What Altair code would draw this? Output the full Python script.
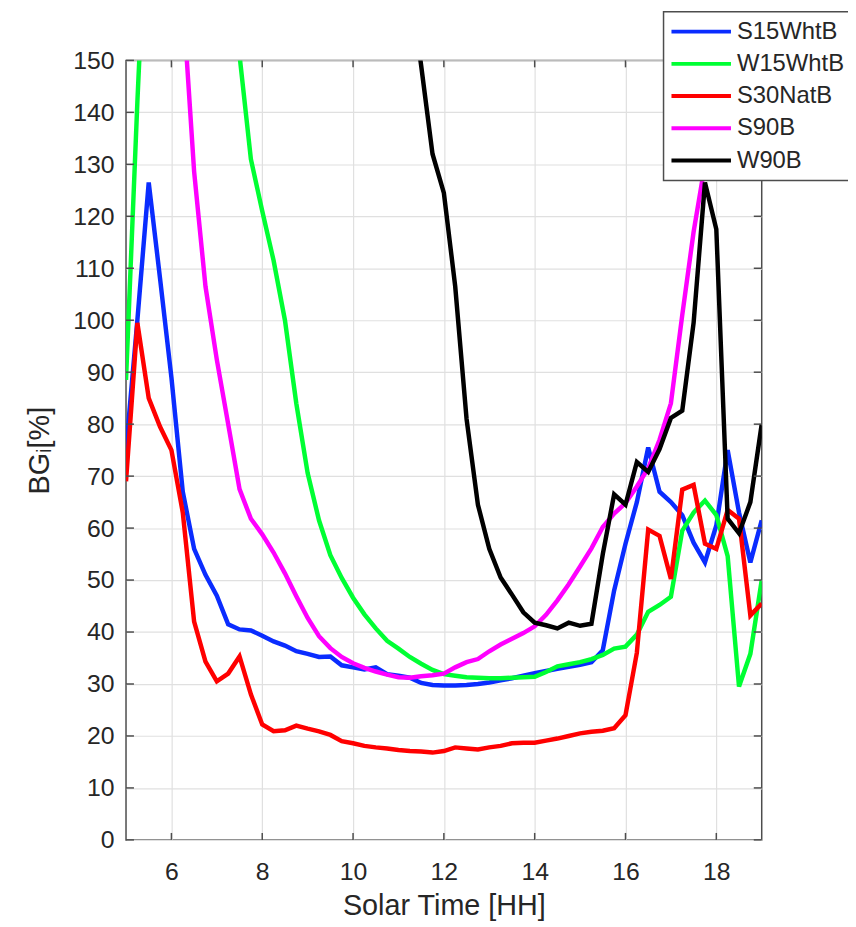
import altair as alt
import pandas as pd

# ---------------- data ----------------
hours = [5 + 0.25 * i for i in range(57)]          # 5:00 ... 19:00, 15-min steps
black_hours = [11 + 0.25 * i for i in range(33)]   # 11:00 ... 19:00

series_names = ["S15WhtB", "W15WhtB", "S30NatB", "S90B", "W90B"]
series_colors = ["#0a2cff", "#00ff33", "#ff0000", "#ff00ff", "#000000"]

s15whtb = [75, 100, 126.5, 108, 89, 67, 56, 51, 47, 41.5, 40.5, 40.3, 39.3, 38.2,
           37.4, 36.3, 35.8, 35.2, 35.3, 33.6, 33.2, 32.8, 33.2, 31.9, 31.6, 31.2,
           30.2, 29.8, 29.7, 29.7, 29.8, 30.0, 30.3, 30.7, 31.1, 31.6, 32.1, 32.5,
           32.9, 33.3, 33.7, 34.2, 36.5, 48, 57, 65, 75.5, 67, 65, 62.5, 57.2, 53.4,
           60.5, 75, 63, 53.4, 61.5]

w15whtb = [88.5, 142, 190, 210, 215, 210, 200, 190, 181, 170, 151, 131, 121, 111.5,
           100, 84, 70.6, 61.5, 54.8, 50.4, 46.6, 43.4, 40.7, 38.3, 36.8, 35.2, 33.9,
           32.7, 31.9, 31.6, 31.3, 31.2, 31.1, 31.1, 31.2, 31.3, 31.4, 32.3, 33.4,
           33.8, 34.2, 34.8, 35.6, 36.8, 37.2, 39.5, 43.9, 45.2, 46.8, 59.5, 63, 65.3,
           62.5, 54.6, 29.5, 35.8, 50]

s30natb = [69, 99.5, 85, 79.5, 75, 63, 42, 34.3, 30.5, 32, 35.3, 28, 22.2, 20.9,
           21.1, 22, 21.4, 20.9, 20.2, 19, 18.6, 18.1, 17.8, 17.6, 17.3, 17.1, 17,
           16.8, 17.1, 17.8, 17.6, 17.4, 17.8, 18.1, 18.6, 18.7, 18.7, 19.1, 19.5,
           20, 20.5, 20.8, 21.0, 21.5, 24, 36, 59.7, 58.5, 50.2, 67.4, 68.3, 57, 56,
           63.5, 61.8, 43.2, 45.5]

s90b = [260, 245, 228, 210, 195, 162, 128.6, 106.5, 92.4, 80, 67.5, 61.8, 58.8, 55.3,
        51.3, 46.9, 42.7, 39.2, 36.9, 35.2, 34, 33.1, 32.4, 31.8, 31.3, 31.2, 31.5,
        31.7, 32, 33.2, 34.2, 34.8, 36.3, 37.6, 38.7, 39.8, 41.1, 43.3, 46.1, 49.2,
        52.6, 56.1, 60.2, 62.8, 64.8, 68, 71.5, 77, 84, 101, 117, 130, 150, 168,
        182, 192, 200]

w90b = [181, 165, 149, 132, 124.5, 106.5, 81, 64.5, 56, 50.5, 47.2, 43.8, 41.8, 41.3,
        40.7, 41.8, 41.2, 41.6, 55, 66.5, 64.5, 72.7, 70.8, 75.2, 81.2, 82.6, 99.5,
        126.5, 117.5, 61.8, 59, 65, 80]

x_ticks = [6, 8, 10, 12, 14, 16, 18]
y_ticks = list(range(0, 151, 10))

# ---------------- tables ----------------
rows = []
for name, xs, ys in [("S15WhtB", hours, s15whtb), ("W15WhtB", hours, w15whtb),
                     ("S30NatB", hours, s30natb), ("S90B", hours, s90b),
                     ("W90B", black_hours, w90b)]:
    for x, y in zip(xs, ys):
        rows.append({"hour": x, "bg": y, "series": name})
df = pd.DataFrame(rows)
xt = pd.DataFrame({"hour": x_ticks})
yt = pd.DataFrame({"bg": y_ticks})

W, H = 641, 786
FONT = "Liberation Sans"
TXT = "#262626"
AX = "#4d4d4d"

xscale = alt.Scale(domain=[5, 19], nice=False, zero=False)
yscale = alt.Scale(domain=[0, 150], nice=False)

x_axis = alt.Axis(values=x_ticks, title="Solar Time [HH]", labelPadding=20,
                  titlePadding=7)
y_axis = alt.Axis(values=y_ticks, title="BGᵢ[%]", labelPadding=12,
                  titlePadding=18)

X = alt.X("hour:Q", scale=xscale, axis=x_axis)
Y = alt.Y("bg:Q", scale=yscale, axis=y_axis)

lines = alt.Chart(df).mark_line(strokeWidth=4.5, clip=True).encode(
    x=X,
    y=Y,
    color=alt.Color("series:N",
                    scale=alt.Scale(domain=series_names, range=series_colors),
                    legend=alt.Legend(title=None, orient="none", legendX=542, legendY=-49,
                                      fillColor="white", strokeColor=AX, padding=6,
                                      symbolType="stroke", symbolSize=3600,
                                      symbolStrokeWidth=4, labelFontSize=24,
                                      labelFont=FONT, labelColor=TXT, labelOffset=4,
                                      clipHeight=28, rowPadding=4.5, zindex=2)),
)

tick_style = dict(color=AX, strokeWidth=1.5)
x_bottom = alt.Chart(xt).mark_rule(**tick_style).encode(
    x=X, y=alt.value(H), y2=alt.value(H - 7))
x_top = alt.Chart(xt).mark_rule(**tick_style).encode(
    x=X, y=alt.value(0), y2=alt.value(7))
y_left = alt.Chart(yt).mark_rule(**tick_style).encode(
    y=Y, x=alt.value(0), x2=alt.value(8))
y_right = alt.Chart(yt).mark_rule(**tick_style).encode(
    y=Y, x=alt.value(W - 8), x2=alt.value(W))

chart = alt.layer(lines, x_bottom, x_top, y_left, y_right).properties(
    width=W, height=H,
    autosize=alt.AutoSizeParams(type="none"),
    padding={"left": 119, "top": 49, "right": 87, "bottom": 84},
    background="white",
).configure_view(
    stroke=AX, strokeWidth=1.5
).configure_axis(
    labelFont=FONT, labelFontSize=25, labelColor=TXT,
    titleFont=FONT, titleFontSize=29, titleColor=TXT, titleFontWeight="normal",
    grid=True, gridColor="#e0e0e0", gridWidth=1.2,
    ticks=False, tickSize=0, domain=False,
).configure_legend(
    strokeWidth=1.5
)

chart.save("out.html", embed_options={"renderer": "svg", "actions": False})
